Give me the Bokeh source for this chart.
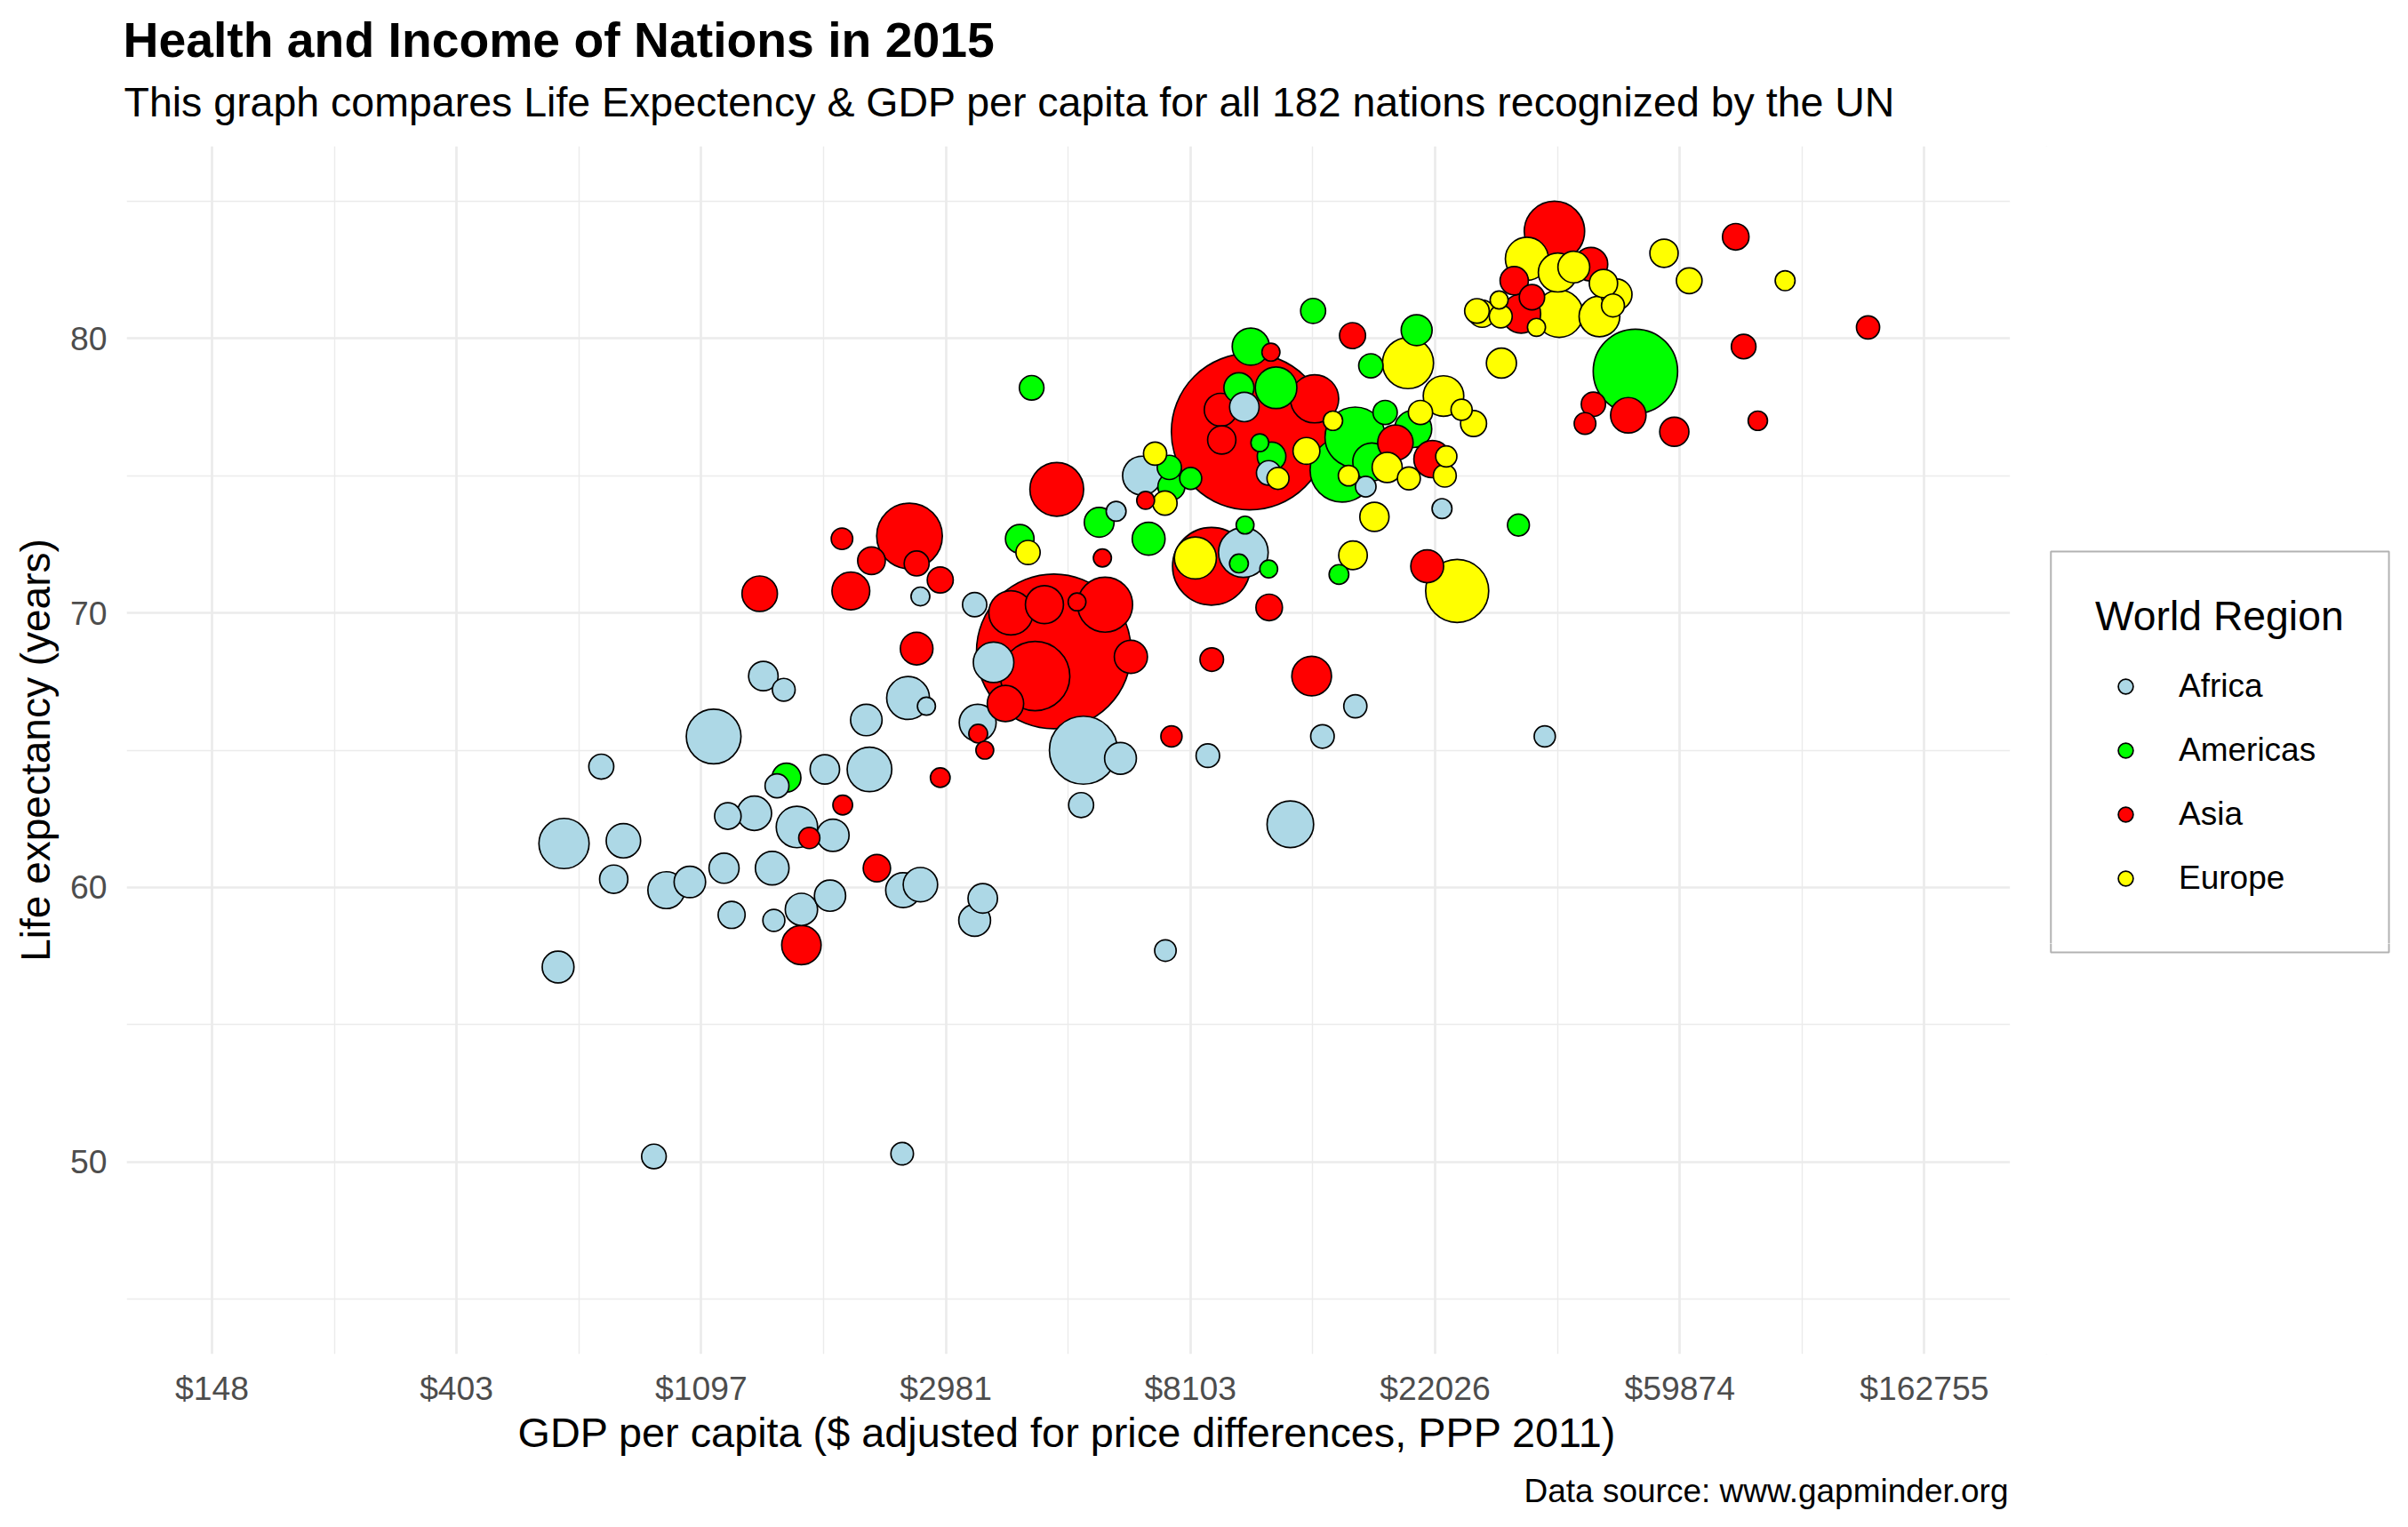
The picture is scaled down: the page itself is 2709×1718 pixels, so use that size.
import math

import numpy as np
import pandas as pd
from bokeh.embed import file_html
from bokeh.models import (BoxAnnotation, ColumnDataSource, CustomJSTickFormatter,
                          FixedTicker, Legend, LegendItem, Range1d, Title)
from bokeh.plotting import figure
from bokeh.resources import INLINE
from bokeh.transform import factor_cmap

FONT = "Liberation Sans"

title_text = "Health and Income of Nations in 2015"
subtitle_text = ("This graph compares Life Expectency & GDP per capita "
                 "for all 182 nations recognized by the UN")
x_label_text = "GDP per capita ($ adjusted for price differences, PPP 2011)"
y_label_text = "Life expectancy (years)"
caption_text = "Data source: www.gapminder.org"

regions = ["Africa", "Americas", "Asia", "Europe"]
region_colors = ["#ADD8E6", "#00FF00", "#FF0000", "#FFFF00"]

# x ticks: e^5 ... e^12, shown as dollars
x_tick_values = [math.exp(k) for k in range(5, 13)]
x_tick_labels = ["$148", "$403", "$1097", "$2981", "$8103", "$22026", "$59874", "$162755"]
x_minor_values = [math.exp(k + 0.5) for k in range(4, 13)]
y_tick_values = [50, 60, 70, 80]
y_minor_values = [45, 55, 65, 75, 85]

# values: GDP per capita ($), life expectancy (years), population (millions)
africa_gdp = [22660, 34490, 16590, 10100, 11160, 6650, 5980, 10060, 15900, 13900,
              8700, 12190, 7315, 2687, 3354, 3624, 3396, 5232, 6088, 5183,
              3467, 3354, 2555, 2754, 2154, 1414, 1537, 1154, 729, 1818,
              2182, 1495, 1223, 1363, 1622, 1879, 626, 798, 767, 951,
              1047, 1204, 1466, 2504, 2687, 1242, 1476, 1652, 1857, 611,
              904, 2494]
africa_life = [73.8, 65.5, 74.6, 77.5, 75.1, 75.0, 73.7, 72.2, 66.6, 65.5,
               64.8, 62.3, 57.7, 70.6, 70.3, 68.2, 66.0, 65.0, 64.7, 63.0,
               59.6, 58.8, 66.9, 66.6, 66.1, 67.7, 67.2, 65.5, 64.4, 64.3,
               64.3, 63.7, 62.6, 62.7, 62.2, 61.9, 61.6, 61.7, 60.3, 59.9,
               60.2, 60.7, 60.7, 59.9, 60.1, 59.0, 58.8, 59.2, 59.7, 57.1,
               50.2, 50.3]
africa_pop = [5, 8, 6.6, 32, 17, 69, 5, 123, 13, 14,
              14, 106, 8.8, 2.6, 16, 76, 60, 246, 40, 18,
              32, 40, 87, 1, 39, 32, 12, 153, 18, 32,
              96, 15, 22.5, 50, 80, 42, 126, 50, 28, 60,
              39, 34, 47, 52, 50, 24, 10, 42, 38, 40,
              17, 11.5]

americas_gdp = [49960, 20430, 30970, 17960, 13380, 16940, 15890, 15060, 20140, 17010,
                14870, 11500, 10370, 9880, 10760, 11290, 4234, 7434, 8112, 7496,
                5580, 6830, 4033, 9880, 10130, 11160, 1554]
americas_life = [78.8, 80.3, 73.2, 77.3, 81.0, 79.0, 76.4, 75.2, 76.7, 75.5,
                 71.4, 78.2, 79.7, 78.2, 76.2, 75.7, 78.2, 75.3, 74.9, 74.6,
                 73.3, 72.7, 72.7, 71.8, 73.2, 71.6, 64.0]
americas_pop = [388, 37, 9.7, 16, 18, 16, 190, 215, 61, 65,
                4.6, 81, 61, 34, 0.5, 29, 17, 16, 10, 24,
                33, 44, 29, 2.6, 0.5, 0.5, 30]

asia_gdp = [35880, 41650, 30440, 32730, 31320, 75290, 129300, 77760, 82400, 58570,
            48530, 42070, 40660, 21790, 21330, 18730, 15720, 13460, 11260, 9170,
            9210, 10320, 6747, 5654, 4692, 8830, 11180, 8841, 13300, 7498,
            2570, 1950, 2200, 2646, 2914, 2022, 1393, 2646, 3890, 4461,
            5097, 5716, 6352, 4295, 3804, 4636, 3403, 3496, 2914, 1956,
            1706, 2249, 1652]
asia_life = [83.9, 82.7, 82.1, 81.5, 80.9, 83.7, 80.4, 79.7, 77.0, 76.6,
             77.2, 77.6, 76.9, 75.6, 71.7, 76.2, 80.1, 77.8, 79.5, 77.4,
             76.3, 76.6, 74.1, 72.0, 74.5, 71.7, 70.2, 68.3, 67.7, 65.5,
             72.8, 72.7, 71.9, 71.8, 71.2, 70.8, 70.7, 68.7, 70.0, 70.3,
             70.4, 70.3, 68.4, 67.7, 66.7, 68.6, 65.6, 65.0, 64.0, 63.0,
             61.8, 60.7, 57.9]
asia_pop = [190, 47, 28, 19, 69, 22.5, 13, 17, 3.8, 31,
            54, 16, 9.2, 61, 44, 54, 21, 115, 1, 44,
            28, 1376, 0.5, 1, 147, 327, 22.5, 14, 72, 8,
            228, 8.8, 26, 18, 21, 64, 54, 43, 94, 65,
            0.5, 155, 45, 256, 58, 1344, 2.6, 0.5, 4.6, 4.6,
            8, 25, 71]

europe_gdp = [32060, 36380, 38840, 43840, 46250, 45580, 36590, 43130, 26140, 26690,
              28620, 28810, 33340, 56160, 62250, 92130, 19720, 28890, 22800, 24550,
              25780, 20750, 23060, 22920, 19790, 18110, 17190, 24110, 14510, 13020,
              11590, 15470, 15750, 7013, 7301, 4172, 8269]
europe_life = [82.9, 82.4, 82.6, 82.0, 81.6, 81.2, 80.9, 80.8, 81.0, 80.9,
               81.4, 80.8, 80.4, 83.1, 82.1, 82.1, 79.1, 79.1, 77.9, 77.4,
               76.9, 77.3, 75.7, 75.0, 74.9, 75.3, 73.5, 70.8, 77.0, 75.9,
               74.9, 75.0, 72.1, 75.8, 74.0, 72.2, 72.0]
europe_pop = [88, 69, 40, 28, 37, 12.4, 111, 77, 17, 25,
              1, 12.4, 1, 28, 20, 5, 131, 34, 76, 8,
              21, 16, 8, 12.4, 12.4, 34, 31, 209, 3.8, 23.6,
              10, 6.6, 29, 13, 16, 16, 83]


def region_frame(name, gdp, life, pop):
    return pd.DataFrame({"region": name, "gdp": gdp, "life": life, "pop": pop})


df = pd.concat([
    region_frame("Africa", africa_gdp, africa_life, africa_pop),
    region_frame("Americas", americas_gdp, americas_life, americas_pop),
    region_frame("Asia", asia_gdp, asia_life, asia_pop),
    region_frame("Europe", europe_gdp, europe_life, europe_pop),
], ignore_index=True)

# big bubbles first so the small ones stay visible
df = df.sort_values("pop", ascending=False, kind="stable").reset_index(drop=True)

# area scale, like ggplot's scale_size
r_min, r_max = 10, 88
p_min, p_max = df["pop"].min(), df["pop"].max()
df["size"] = 2 * np.sqrt(r_min ** 2 + (r_max ** 2 - r_min ** 2) * (df["pop"] - p_min) / (p_max - p_min))

source = ColumnDataSource(df)

# panel covers ln(gdp) 4.65 .. 12.35; the frame runs on to the right edge so the
# legend can sit beside the panel, and a white box hides the grid out there
panel_end = math.exp(12.35)
p = figure(width=2709, height=1718, title=None, x_axis_type="log",
           x_range=Range1d(math.exp(4.6515), math.exp(13.979)), y_range=Range1d(43, 87),
           output_backend="svg", toolbar_location=None, tools="",
           min_border_left=142, min_border_right=0, min_border_top=164, min_border_bottom=195)
p.outline_line_color = None
p.background_fill_color = "white"
p.border_fill_color = "white"

p.xaxis.ticker = FixedTicker(ticks=x_tick_values, minor_ticks=x_minor_values)
p.xaxis.formatter = CustomJSTickFormatter(
    args=dict(tick_values=x_tick_values, tick_labels=x_tick_labels),
    code="""
        for (let i = 0; i < tick_values.length; i++) {
            if (Math.abs(tick_values[i] - tick) / tick_values[i] < 1e-6) { return tick_labels[i]; }
        }
        return '';
    """)
p.yaxis.ticker = FixedTicker(ticks=y_tick_values, minor_ticks=y_minor_values)

p.grid.grid_line_color = "#EBEBEB"
p.grid.grid_line_width = 2.7
p.grid.minor_grid_line_color = "#EBEBEB"
p.grid.minor_grid_line_width = 1.4

for ax in (p.xaxis, p.yaxis):
    ax.axis_line_color = None
    ax.major_tick_line_color = None
    ax.minor_tick_line_color = None
    ax.major_tick_in = 0
    ax.major_tick_out = 0
    ax.minor_tick_in = 0
    ax.minor_tick_out = 0
    ax.major_label_text_font = FONT
    ax.major_label_text_font_size = "37.3px"
    ax.major_label_text_color = "#4D4D4D"
    ax.axis_label_text_font = FONT
    ax.axis_label_text_font_size = "46px"
    ax.axis_label_text_font_style = "normal"
    ax.axis_label_text_color = "black"
    ax.major_label_standoff = 22

p.xaxis.major_label_standoff = 17
p.yaxis.axis_label = y_label_text
p.yaxis.axis_label_standoff = 10

bubbles = p.scatter(x="gdp", y="life", size="size", source=source, marker="circle",
                    fill_color=factor_cmap("region", region_colors, regions),
                    line_color="black", line_width=1.7)

p.add_layout(BoxAnnotation(left=panel_end, right=math.exp(14.5), bottom=43, top=87,
                           fill_color="white", fill_alpha=1, line_color=None))

# legend frame, drawn on its own so its padding can differ top and bottom
p.add_layout(BoxAnnotation(left=math.exp(12.5174), right=math.exp(13.8993),
                           bottom=57.634, top=72.236, fill_color=None,
                           line_color="black", line_width=2))

items = []
for reg in regions:
    first = int(df.index[df["region"] == reg][0])
    items.append(LegendItem(label=reg, renderers=[bubbles], index=first))

# white border keeps the legend padding; transparent fill lets the frame show
legend = Legend(items=items, title="World Region", location=(2162, 461), margin=0,
                padding=52, spacing=30, glyph_width=68, glyph_height=42,
                label_height=42, label_standoff=26, title_standoff=31,
                border_line_color="white", border_line_width=1,
                background_fill_color="white", background_fill_alpha=0,
                title_text_font=FONT, title_text_font_size="46.3px",
                title_text_font_style="normal", title_text_color="black",
                label_text_font=FONT, label_text_font_size="37px",
                label_text_color="black")
p.add_layout(legend, "center")

p.add_layout(Title(text=subtitle_text, align="left", offset=-3, standoff=47,
                   text_font=FONT, text_font_size="46.5px", text_font_style="normal",
                   text_color="black"), "above")
p.add_layout(Title(text=title_text, align="left", offset=-4, standoff=-25,
                   text_font=FONT, text_font_size="55.3px", text_font_style="bold",
                   text_color="black"), "above")
p.add_layout(Title(text=x_label_text, align="left", offset=440, standoff=-4,
                   text_font=FONT, text_font_size="46.8px", text_font_style="normal",
                   text_color="black"), "below")
p.add_layout(Title(text=caption_text, align="left", offset=1572, standoff=38,
                   text_font=FONT, text_font_size="37px", text_font_style="normal",
                   text_color="black"), "below")

open("out.html", "w").write(file_html(p, INLINE))
